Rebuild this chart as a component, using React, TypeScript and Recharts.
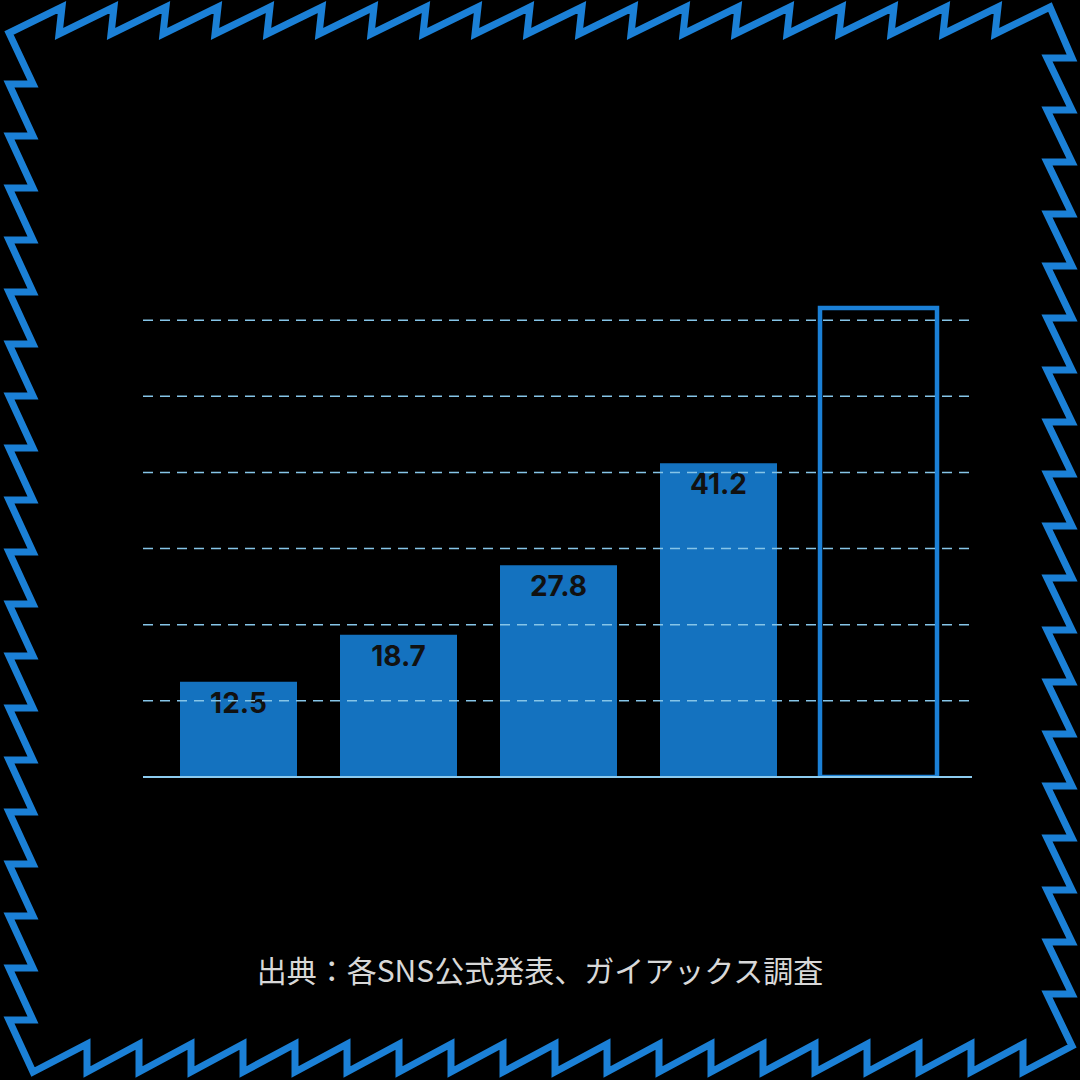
import React from "react";
import { Bar, BarChart, Cell, LabelList, ReferenceLine, XAxis, YAxis } from "recharts";

// chart values
const categories = ["1", "2", "3", "4", "5"];
const values = [12.5, 18.7, 27.8, 41.2, 61.6];
const valueLabels = ["12.5", "18.7", "27.8", "41.2", ""];
const outlined = [false, false, false, false, true];
const gridTicks = [10, 20, 30, 40, 50, 60];
const sourceNote = "出典：各SNS公式発表、ガイアックス調査";

const data = categories.map((name, i) => ({
  name,
  value: values[i],
  label: valueLabels[i],
}));

const BLUE = "#1472bf";
const FRAME = "#1b80d6";
const chartMargin = { top: 305, right: 108, bottom: 303, left: 143 };

// zigzag frame around the whole picture
function framePath() {
  const step = 52;
  const pts: [number, number][] = [[9, 33]];
  for (let k = 0; k < 20; k++) {
    pts.push([62 + step * k, 7]);
    if (k < 19) pts.push([59 + step * k, 34]);
  }
  for (let j = 0; j < 19; j++) {
    pts.push([1072, 58 + step * j]);
    pts.push([1047, 58 + step * j]);
  }
  pts.push([1072, 1046]);
  for (let i = 0; i < 19; i++) {
    pts.push([1023 - step * i, 1072]);
    pts.push([1023 - step * i, 1044]);
  }
  pts.push([33, 1072]);
  for (let m = 0; m < 19; m++) {
    pts.push([9, 1020 - step * m]);
    pts.push([33, 1020 - step * m]);
  }
  return "M" + pts.map((p) => p.join(",")).join(" L") + " Z";
}

const layer: React.CSSProperties = { position: "absolute", left: 0, top: 0 };

export default function App() {
  return (
    <div
      style={{
        position: "absolute",
        left: 0,
        top: 0,
        width: 1080,
        height: 1080,
        background: "#000",
        overflow: "hidden",
      }}
    >
      <svg width={1080} height={1080} style={layer}>
        <path d={framePath()} fill="none" stroke={FRAME} strokeWidth={7} strokeLinejoin="miter" />
      </svg>

      {/* bars and value labels */}
      <div style={layer}>
        <BarChart width={1080} height={1080} data={data} margin={chartMargin}>
          <XAxis dataKey="name" hide padding={{ left: 15, right: 14 }} />
          <YAxis hide type="number" domain={[0, 62]} allowDataOverflow />
          <Bar dataKey="value" barSize={117} isAnimationActive={false}>
            {data.map((d, i) => (
              <Cell
                key={d.name}
                fill={outlined[i] ? "#000" : BLUE}
                stroke={outlined[i] ? FRAME : "none"}
                strokeWidth={outlined[i] ? 4.5 : 0}
              />
            ))}
            <LabelList
              dataKey="label"
              position="insideTop"
              offset={11}
              fill="#111"
              fontSize={28}
              fontWeight={700}
              fontFamily="Inter, sans-serif"
            />
          </Bar>
        </BarChart>
      </div>

      {/* grid lines sit on top of the bars in the reference */}
      <div style={layer}>
        <BarChart width={1080} height={1080} data={data} margin={chartMargin}>
          <XAxis dataKey="name" hide padding={{ left: 15, right: 14 }} />
          <YAxis hide type="number" domain={[0, 62]} allowDataOverflow />
          <Bar dataKey="value" barSize={117} fill="none" isAnimationActive={false} />
          {gridTicks.map((t) => (
            <ReferenceLine
              key={t}
              y={t}
              stroke="#86c5e8"
              strokeWidth={1.5}
              strokeDasharray="10 7"
            />
          ))}
          <ReferenceLine y={0} stroke="#8ccbef" strokeWidth={2} />
        </BarChart>
      </div>

      <div
        style={{
          position: "absolute",
          left: 0,
          width: 1080,
          top: 954,
          textAlign: "center",
          fontFamily: '"Noto Sans CJK JP", sans-serif',
          fontSize: 30,
          lineHeight: "30px",
          color: "#d8d8d8",
        }}
      >
        {sourceNote}
      </div>
    </div>
  );
}
